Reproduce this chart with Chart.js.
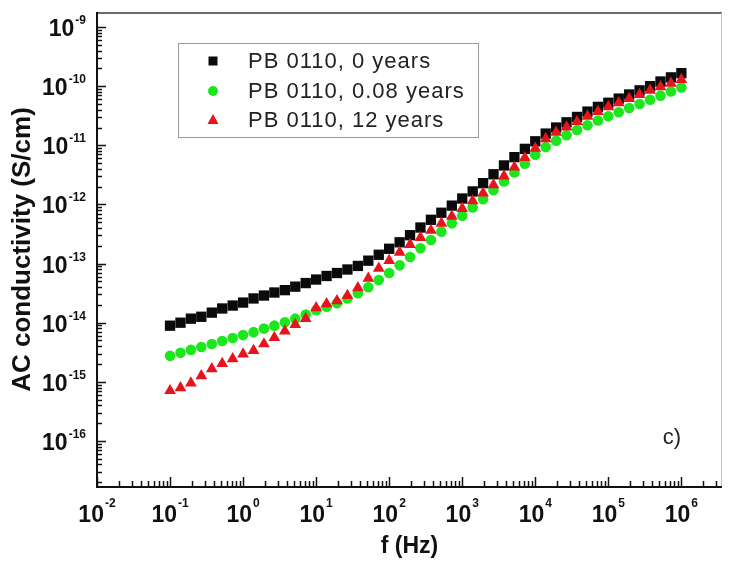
<!DOCTYPE html>
<html>
<head>
<meta charset="utf-8">
<script src="https://cdn.jsdelivr.net/npm/chart.js@4.4.1/dist/chart.umd.min.js"></script>
<style>
  html, body { margin: 0; padding: 0; background: #fff; }
  canvas { display: block; }
</style>
</head>
<body>
<canvas id="chart" width="732" height="563"></canvas>
<script>
// Measurement frequencies (Hz), 7 points per decade
const frequencyHz = [
  0.1, 0.139, 0.193, 0.268, 0.373, 0.518, 0.72,
  1, 1.39, 1.93, 2.68, 3.73, 5.18, 7.2,
  10, 13.9, 19.3, 26.8, 37.3, 51.8, 72,
  100, 139, 193, 268, 373, 518, 720,
  1000, 1390, 1930, 2680, 3730, 5180, 7200,
  1e4, 13900, 19300, 26800, 37300, 51800, 72000,
  1e5, 139000, 193000, 268000, 373000, 518000, 720000,
  1e6
];

// AC conductivity (S/cm), PB 0110 aged 0 years
const sigmaAged0 = [
  8.9e-15, 1.0e-14, 1.17e-14, 1.26e-14, 1.48e-14, 1.74e-14, 1.95e-14,
  2.19e-14, 2.57e-14, 2.88e-14, 3.24e-14, 3.55e-14, 4.07e-14, 4.68e-14,
  5.37e-14, 6.17e-14, 6.92e-14, 7.94e-14, 9.12e-14, 1.12e-13, 1.41e-13,
  1.78e-13, 2.29e-13, 3.02e-13, 4.07e-13, 5.50e-13, 7.24e-13, 9.55e-13,
  1.26e-12, 1.66e-12, 2.29e-12, 3.24e-12, 4.57e-12, 6.31e-12, 8.71e-12,
  1.17e-11, 1.58e-11, 2.00e-11, 2.45e-11, 3.02e-11, 3.72e-11, 4.47e-11,
  5.25e-11, 6.17e-11, 7.24e-11, 8.51e-11, 1.00e-10, 1.20e-10, 1.41e-10,
  1.66e-10
];

// AC conductivity (S/cm), PB 0110 aged 0.08 years
const sigmaAged008 = [
  2.75e-15, 3.09e-15, 3.47e-15, 3.89e-15, 4.37e-15, 4.90e-15, 5.50e-15,
  6.17e-15, 6.92e-15, 7.94e-15, 8.91e-15, 1.02e-14, 1.17e-14, 1.38e-14,
  1.62e-14, 1.86e-14, 2.14e-14, 2.57e-14, 3.16e-14, 3.98e-14, 5.25e-14,
  6.92e-14, 9.33e-14, 1.29e-13, 1.82e-13, 2.51e-13, 3.47e-13, 4.79e-13,
  6.46e-13, 8.91e-13, 1.23e-12, 1.74e-12, 2.45e-12, 3.47e-12, 4.90e-12,
  6.92e-12, 9.33e-12, 1.20e-11, 1.48e-11, 1.82e-11, 2.19e-11, 2.63e-11,
  3.09e-11, 3.63e-11, 4.27e-11, 5.01e-11, 5.89e-11, 6.92e-11, 8.13e-11,
  9.55e-11
];

// AC conductivity (S/cm), PB 0110 aged 12 years
const sigmaAged12 = [
  7.08e-16, 7.94e-16, 9.55e-16, 1.26e-15, 1.66e-15, 2.04e-15, 2.45e-15,
  2.95e-15, 3.39e-15, 4.37e-15, 5.62e-15, 7.24e-15, 9.33e-15, 1.17e-14,
  1.78e-14, 2.09e-14, 2.34e-14, 2.88e-14, 3.89e-14, 5.62e-14, 8.32e-14,
  1.12e-13, 1.55e-13, 2.09e-13, 2.75e-13, 3.63e-13, 4.79e-13, 6.31e-13,
  8.51e-13, 1.15e-12, 1.55e-12, 2.14e-12, 3.02e-12, 4.27e-12, 6.17e-12,
  8.91e-12, 1.29e-11, 1.66e-11, 2.04e-11, 2.51e-11, 3.09e-11, 3.72e-11,
  4.47e-11, 5.25e-11, 6.17e-11, 7.24e-11, 8.51e-11, 9.77e-11, 1.12e-10,
  1.29e-10
];

const seriesLabels = ['PB 0110, 0 years', 'PB 0110, 0.08 years', 'PB 0110, 12 years'];

// Labelled decades on each axis (exponents of 10)
const xTickExponents = [-2, -1, 0, 1, 2, 3, 4, 5, 6];
const yTickExponents = [-9, -10, -11, -12, -13, -14, -15, -16];

const FONT = '"Liberation Sans", Arial, sans-serif';

function toPoints(xs, ys) {
  return xs.map((x, i) => ({ x: x, y: ys[i] }));
}

// Power-of-ten labels, minor/major inward ticks, frame, legend box and panel tag
const decorations = {
  id: 'decorations',
  afterDatasetsDraw(chart) {
    const { ctx, chartArea: a, scales } = chart;
    const xs = scales.x, ys = scales.y;
    ctx.save();

    // frame: grey top/right, black left/bottom axes
    ctx.lineCap = 'butt';
    ctx.strokeStyle = '#6a6a6a';
    ctx.lineWidth = 2;
    ctx.beginPath(); ctx.moveTo(a.left, a.top); ctx.lineTo(a.right, a.top); ctx.stroke();
    ctx.strokeStyle = '#c4c4c4';
    ctx.lineWidth = 1;
    ctx.beginPath(); ctx.moveTo(a.right - 0.5, a.top); ctx.lineTo(a.right - 0.5, a.bottom); ctx.stroke();
    ctx.strokeStyle = '#111';
    ctx.lineWidth = 2;
    ctx.beginPath(); ctx.moveTo(a.left, a.top - 1); ctx.lineTo(a.left, a.bottom + 1); ctx.lineTo(a.right, a.bottom + 1); ctx.stroke();

    // log ticks pointing into the plot
    ctx.lineWidth = 1.5;
    const xMinE = Math.floor(Math.log10(xs.min)), xMaxE = Math.ceil(Math.log10(xs.max));
    for (let e = xMinE; e <= xMaxE; e++) {
      for (let m = 1; m <= 9; m++) {
        const v = m * Math.pow(10, e);
        if (v < xs.min * 0.999 || v > xs.max) continue;
        const px = Math.round(xs.getPixelForValue(v)) + 0.5;
        const len = m === 1 ? 9 : 5;
        ctx.beginPath(); ctx.moveTo(px, a.bottom); ctx.lineTo(px, a.bottom - len); ctx.stroke();
      }
    }
    const yMinE = Math.floor(Math.log10(ys.min)), yMaxE = Math.ceil(Math.log10(ys.max));
    for (let e = yMinE; e <= yMaxE; e++) {
      for (let m = 1; m <= 9; m++) {
        const v = m * Math.pow(10, e);
        if (v < ys.min || v > ys.max) continue;
        const py = Math.round(ys.getPixelForValue(v)) + 0.5;
        const len = m === 1 ? 9 : 5;
        ctx.beginPath(); ctx.moveTo(a.left, py); ctx.lineTo(a.left + len, py); ctx.stroke();
      }
    }

    // tick labels as 10 with a raised exponent
    const baseFont = 'bold 23px ' + FONT;
    const expFont = 'bold 12px ' + FONT;
    ctx.fillStyle = '#111';
    ctx.textBaseline = 'alphabetic';
    ctx.textAlign = 'left';
    function label(exp, leftX, baseY, expY) {
      ctx.font = baseFont;
      const w = ctx.measureText('10').width;
      ctx.fillText('10', leftX, baseY);
      ctx.font = expFont;
      ctx.fillText(String(exp), leftX + w + 1, expY);
    }
    function labelWidth(exp) {
      ctx.font = baseFont;
      const w = ctx.measureText('10').width;
      ctx.font = expFont;
      return w + 1 + ctx.measureText(String(exp)).width;
    }
    xTickExponents.forEach(e => {
      const px = xs.getPixelForValue(Math.pow(10, e));
      const w = labelWidth(e);
      label(e, px - w / 2, a.bottom + 36, a.bottom + 21);
    });
    yTickExponents.forEach(e => {
      const py = ys.getPixelForValue(Math.pow(10, e));
      const w = labelWidth(e);
      label(e, a.left - 11 - w, py + 9, py - 3);
    });

    // legend box
    const box = { x: 178.5, y: 43.5, w: 300, h: 94 };
    ctx.strokeStyle = '#9a9a9a';
    ctx.lineWidth = 1;
    ctx.strokeRect(box.x, box.y, box.w, box.h);
    const rows = [61, 91, 120];
    chart.data.datasets.forEach((ds, i) => {
      const cx = 213, cy = rows[i];
      ctx.fillStyle = ds.backgroundColor;
      ctx.beginPath();
      if (ds.pointStyle === 'rect') {
        ctx.rect(cx - 4.5, cy - 4.5, 9, 9);
      } else if (ds.pointStyle === 'circle') {
        ctx.arc(cx, cy, 5, 0, Math.PI * 2);
      } else {
        ctx.moveTo(cx, cy - 6); ctx.lineTo(cx + 5.5, cy + 4); ctx.lineTo(cx - 5.5, cy + 4); ctx.closePath();
      }
      ctx.fill();
      ctx.fillStyle = '#222';
      ctx.font = '22px ' + FONT;
      ctx.textBaseline = 'middle';
      if ('letterSpacing' in ctx) ctx.letterSpacing = '1px';
      ctx.fillText(ds.label, 248, cy + 1);
      if ('letterSpacing' in ctx) ctx.letterSpacing = '0px';
    });

    // panel tag
    ctx.fillStyle = '#222';
    ctx.font = '22px ' + FONT;
    ctx.textAlign = 'center';
    ctx.textBaseline = 'middle';
    ctx.fillText('c)', 672, 438);

    ctx.restore();
  }
};

new Chart(document.getElementById('chart'), {
  type: 'scatter',
  data: {
    datasets: [
      {
        label: seriesLabels[0],
        data: toPoints(frequencyHz, sigmaAged0),
        pointStyle: 'rect', pointRadius: 7.3, borderWidth: 0,
        backgroundColor: '#0a0a0a', borderColor: '#0a0a0a', order: 1
      },
      {
        label: seriesLabels[1],
        data: toPoints(frequencyHz, sigmaAged008),
        pointStyle: 'circle', pointRadius: 5.3, borderWidth: 0,
        backgroundColor: '#1ce61c', borderColor: '#1ce61c', order: 2
      },
      {
        label: seriesLabels[2],
        data: toPoints(frequencyHz, sigmaAged12),
        pointStyle: 'triangle', pointRadius: 6.8, borderWidth: 0,
        backgroundColor: '#e8141c', borderColor: '#e8141c', order: 0
      }
    ]
  },
  options: {
    responsive: false,
    animation: false,
    events: [],
    layout: { padding: { left: 0, right: 10, top: 13, bottom: 0 } },
    plugins: { legend: { display: false }, tooltip: { enabled: false } },
    scales: {
      x: {
        type: 'logarithmic',
        min: 0.01, max: 3.6e6,
        ticks: { display: false },
        grid: { display: false },
        border: { display: false },
        title: {
          display: true, text: 'f (Hz)', color: '#111',
          font: { family: FONT, size: 23, weight: 'bold' },
          padding: { top: 0, bottom: 3 }
        },
        afterFit(scale) { scale.height = 77; }
      },
      y: {
        type: 'logarithmic',
        min: 1.73e-17, max: 1.73e-9,
        ticks: { display: false },
        grid: { display: false },
        border: { display: false },
        title: {
          display: true, text: 'AC conductivity (S/cm)', color: '#111',
          font: { family: FONT, size: 26, weight: 'bold' },
          padding: { top: 7, bottom: 0 }
        },
        afterFit(scale) { scale.width = 97; }
      }
    }
  },
  plugins: [decorations]
});
</script>
</body>
</html>
